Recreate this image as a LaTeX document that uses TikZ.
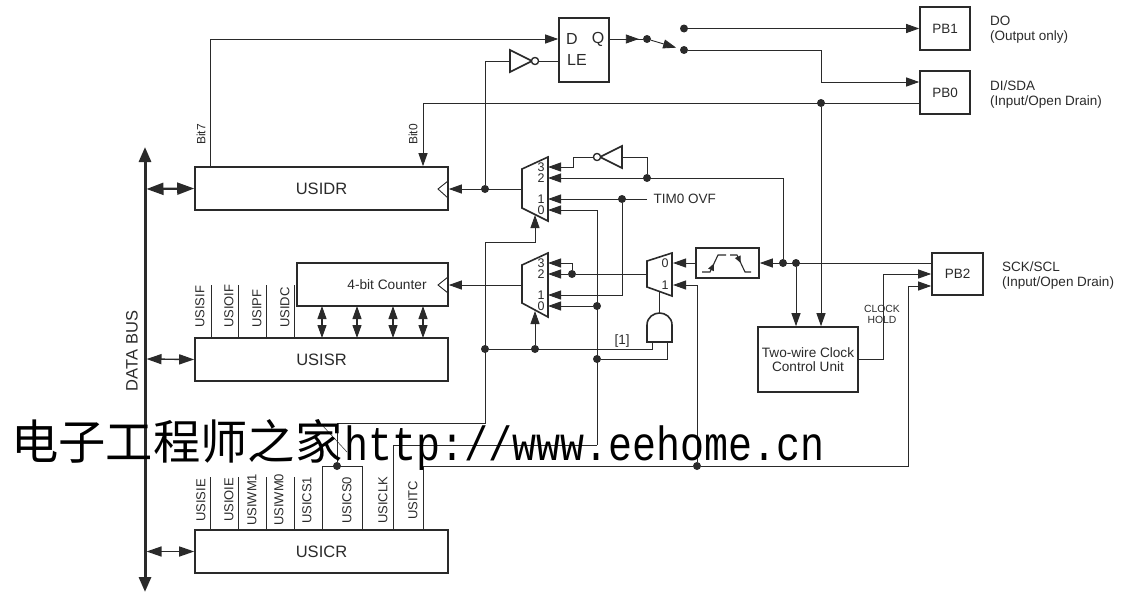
\documentclass[tikz,border=0pt]{standalone}
\usepackage{fontspec}
\setmainfont{Liberation Sans}
\newfontfamily\cjkfont{Noto Sans CJK SC}
\newfontfamily\wmfont{Liberation Mono}
\usetikzlibrary{arrows.meta,calc,decorations.markings}
\newcommand{\fsz}[1]{\fontsize{#1}{#1}\selectfont}
\definecolor{ink}{HTML}{2A2A2A}
\tikzset{
  wire/.style={draw=ink,line width=0.9pt},
  arr/.style={wire,-{Triangle[length=13pt,width=9pt]}},
  darr/.style={wire,line width=1.4pt,{Triangle[length=15pt,width=10pt]}-{Triangle[length=15pt,width=10pt]}},
  darrbig/.style={wire,line width=2.2pt,{Triangle[length=17pt,width=12pt]}-{Triangle[length=17pt,width=12pt]}},
  regbox/.style={draw=ink,line width=1.6pt,fill=white,inner sep=0pt,text=ink,align=center},
  gate/.style={draw=ink,line width=1.6pt,fill=white,line join=miter},
  dot/.style={circle,fill=ink,inner sep=0pt,minimum size=8pt},
  bubble/.style={circle,draw=ink,line width=1.2pt,fill=white,inner sep=0pt,minimum size=7pt},
  lab/.style={text=ink,inner sep=0pt,font=\fsz{13.5}},
  muxn/.style={text=ink,inner sep=0pt,font=\fsz{12.5}},
  vlab/.style={text=ink,inner sep=0pt,font=\fsz{13},rotate=90,anchor=west},
  edgemark/.style={draw=ink,line width=1.1pt,postaction={decorate},decoration={markings,mark=at position 0.5 with {\arrow{Triangle[length=7pt,width=6pt]}}}},
}
\begin{document}
\begin{tikzpicture}[x=1pt,y=-1pt]
\useasboundingbox (0,0) rectangle (1129,592);
% registers and boxes
\node[regbox,minimum width=253pt,minimum height=43pt,font=\fsz{16.5}] (usidr) at (321.5,188.5) {USIDR};
\node[regbox,minimum width=253pt,minimum height=43pt,font=\fsz{16.5}] (usisr) at (321.5,359.5) {USISR};
\node[regbox,minimum width=253pt,minimum height=43pt,font=\fsz{16.5}] (usicr) at (321.5,551.5) {USICR};
\node[regbox,minimum width=151pt,minimum height=43pt,font=\fsz{13.7}] (counter) at (372.5,284.5) {\hspace*{29pt}4-bit Counter};
\node[regbox,minimum width=50pt,minimum height=64pt] (latch) at (584,50) {};
\node[regbox,minimum width=63pt,minimum height=30pt] (filter) at (727.5,263) {};
\node[regbox,minimum width=50pt,minimum height=43pt,font=\fsz{13.5}] (pb1) at (945,28.5) {PB1};
\node[regbox,minimum width=50pt,minimum height=43pt,font=\fsz{13.5}] (pb0) at (945,92.5) {PB0};
\node[regbox,minimum width=51pt,minimum height=42pt,font=\fsz{13.5}] (pb2) at (957.5,274) {PB2};
\node[regbox,minimum width=100pt,minimum height=65pt,font=\fsz{13.6}] (twowire) at (808,359.5) {Two-wire Clock\\[1pt]Control Unit};
% latch labels
\node[inner sep=0pt,text=ink,font=\fsz{16}] (ld) at (572,39) {D};
\node[inner sep=0pt,text=ink,font=\fsz{16}] (lq) at (598,39) {Q};
\node[inner sep=0pt,text=ink,font=\fsz{16}] (lle) at (577,60) {LE};
% junctions
\node[dot] (dSw) at (647,39) {};
\node[dot] (dTop) at (684,28.5) {};
\node[dot] (dOut) at (684,50) {};
\node[dot] (dBus) at (821,103) {};
\node[dot] (dClk) at (485,189) {};
\node[dot] (dInv) at (647,178) {};
\node[dot] (dTim) at (622,199) {};
\node[dot] (dMtwo) at (572,274) {};
\node[dot] (dSa) at (597,306) {};
\node[dot] (dSb) at (597,359) {};
\node[dot] (dEa) at (485,349) {};
\node[dot] (dEb) at (535,349) {};
\node[dot] (dFa) at (783,263) {};
\node[dot] (dFb) at (796,263) {};
\node[dot] (dCs) at (337,466) {};
\node[dot] (dTc) at (697,466) {};
% mux ports
\coordinate (mAo) at (522,189);
\coordinate (mAthree) at (548,167);
\coordinate (mAtwo) at (548,178);
\coordinate (mAone) at (548,199);
\coordinate (mAzero) at (548,210);
\coordinate (mAsel) at (535,215);
\coordinate (mBo) at (522,285);
\coordinate (mBthree) at (548,263);
\coordinate (mBtwo) at (548,274);
\coordinate (mBone) at (548,295);
\coordinate (mBzero) at (548,306);
\coordinate (mBsel) at (535,311);
\coordinate (mCin) at (647,274);
\coordinate (mCzero) at (673,263);
\coordinate (mCone) at (673,285);
\coordinate (mCsel) at (659.5,292);
\coordinate (andTop) at (659.5,313);
\coordinate (andA) at (652,342);
\coordinate (andB) at (667,342);
% connectors
\draw[arr] (210,167) coordinate (bSeven) |- (latch.west |- dSw);
\draw[wire] (latch.east |- dSw) -- (dSw);
\draw[arr,shorten >=4pt] (latch.east |- dSw) -- (dSw);
\draw[arr,shorten >=4pt] (dSw) -- (dOut);
\draw[arr] (dTop) -- (dTop -| pb1.west);
\draw[wire] (dOut) -| (821,82) coordinate (bPb);
\draw[arr] (bPb) -- (bPb -| pb0.west);
\draw[arr] (dBus -| pb0.west) -- (423,103) coordinate (bZero) -- (bZero |- usidr.north);
\draw[arr] (dBus) -- (dBus |- twowire.north);
\draw[arr] (dFb) -- (dFb |- twowire.north);
\draw[arr] (dFb -| pb2.west) -- (filter.east);
\draw[arr] (filter.west) -- (mCzero);
\draw[arr] (dFa) |- (mAtwo);
\draw[arr] (mAo) -- (usidr.east |- mAo);
\draw[arr] (mBo) -- (counter.east |- mBo);
% inverter loops
\node[bubble] (binv) at (535,61) {};
\node[bubble] (binvb) at (597,157) {};
\draw[wire] (dClk) |- (510,61) coordinate (iaIn);
\draw[wire] (binv) -- (latch.west |- binv);
\draw[wire] (dInv) |- (622,157) coordinate (ibIn);
\draw[arr] (binvb) -- (573,157) coordinate (ibB) -- (ibB |- mAthree) -- (mAthree);
\draw[gate] (iaIn |- 0,50) -- (532,61) -- (iaIn |- 0,72) -- cycle;
\draw[gate] (ibIn |- 0,146) -- (600,157) -- (ibIn |- 0,168) -- cycle;
\node[bubble] at (binv) {};
\node[bubble] at (binvb) {};
% TIM0 and mux inputs
\coordinate (timEnd) at (647,199);
\draw[arr] (timEnd) -- (mAone);
\node[lab,anchor=west] (tim) at (653.5,198.5) {TIM0 OVF};
\draw[arr] (dTim) |- (mBone);
\draw[arr] (597,445) coordinate (sBot) |- (mAzero);
\draw[arr] (dSa) -- (mBzero);
\draw[arr] (dMtwo) -- (572,263) -- (mBthree);
\draw[arr] (dMtwo) -- (mBtwo);
\draw[wire] (dMtwo) -- (mCin);
\draw[arr] (dTc) -- (697,285) -- (mCone);
\draw[wire] (mCsel) -- (andTop);
\draw[wire] (dEa) -- (652,349) -- (andA);
\draw[wire] (dSb) -- (667,359) -- (andB);
\draw[arr] (dEb) -- (mBsel);
\coordinate (aBot) at (337,423);
\draw[arr] (dCs) -- (aBot) -| (485,242) -| (mAsel);
% register bit lines
\draw[wire] (210,477) -- (210,530);
\draw[wire] (238,477) -- (238,530);
\draw[wire] (266,477) -- (266,530);
\draw[wire] (294,477) -- (294,530);
\draw[wire] (322,530) -- (322,466) -- (362,466) -- (362,530);
\draw[wire] (393,530) -- (393,445) -- (sBot);
\draw[wire] (423,530) -- (423,466) -- (dTc);
\draw[arr] (dTc) -- (908,466) -- (908,286) -- (pb2.west |- 0,286);
\draw[arr] (twowire.east |- 0,359) -- (883,359) -- (883,274) -- (pb2.west |- 0,274);
\draw[wire] (211,285) -- (211,338);
\draw[wire] (238,285) -- (238,338);
\draw[wire] (266,285) -- (266,338);
\draw[wire] (294,285) -- (294,338);
\draw[wire,line width=0.5pt] (322,425) -- (347,452);
% counter to USISR arrows
\foreach \bx in {322,357,393,423}
  \draw[wire,line width=1.1pt,{Triangle[length=13pt,width=9pt]}-{Triangle[length=13pt,width=9pt]}] (\bx,306) -- (\bx,338);
% mux shapes
\draw[gate,fill=none] (522,169) -- (548,157) -- (548,221) -- (522,208) -- cycle;
\draw[gate,fill=none] (522,265) -- (548,253) -- (548,317) -- (522,303) -- cycle;
\draw[gate,fill=none] (647,261) -- (672,253) -- (672,296) -- (647,287) -- cycle;
\draw[gate] (647,342) -- (647,325) .. controls (647,317) and (654,313) .. (659.5,313) .. controls (665,313) and (672,317) .. (672,325) -- (672,342) -- cycle;
\foreach \t/\n/\y in {3/a/167,2/b/178,1/c/199,0/d/210,3/e/263,2/f/274,1/g/295,0/h/306}
  \node[muxn] (mn\n) at (541,\y) {\t};
\node[muxn] (mni) at (665,263) {0};
\node[muxn] (mnj) at (665,285) {1};
% clock triangles
\draw[wire,line join=miter] (448,181) -- (438,189) -- (448,198);
\draw[wire,line join=miter] (448,277) -- (438,285) -- (448,293);
% filter symbols
\draw[edgemark] (702,272) -- (710,272) -- (718,255) -- (726,255);
\draw[edgemark] (730,255) -- (737,255) -- (745,272) -- (751,272);
% data bus
\coordinate (busTop) at (145,147);
\coordinate (busBot) at (145,592);
\draw[draw=ink,line width=3pt,{Triangle[length=15pt,width=12pt]}-{Triangle[length=15pt,width=12pt]}] (busTop) -- (busBot);
\draw[darrbig] (146.5,189) -- (usidr.west);
\draw[darr] (146.5,359) -- (usisr.west);
\draw[darr] (146.5,551.5) -- (usicr.west);
% text labels
\node[text=ink,inner sep=0pt,font=\fsz{16.5},rotate=90] (bus) at (132,351) {DATA BUS};
\node[vlab,font=\fsz{12}] (b7) at (201,145) {Bit7};
\node[vlab,font=\fsz{12}] (b0) at (413,145) {Bit0};
\node[vlab] (v1) at (200,328) {USISIF};
\node[vlab] (v2) at (229,328) {USIOIF};
\node[vlab] (v3) at (257,328) {USIPF};
\node[vlab] (v4) at (285,328) {USIDC};
\node[vlab] (c1) at (201,522) {USISIE};
\node[vlab] (c2) at (229,522) {USIOIE};
\node[vlab] (c3) at (252,526) {USIWM1};
\node[vlab] (c4) at (279,526) {USIWM0};
\node[vlab] (c5) at (307,524) {USICS1};
\node[vlab] (c6) at (347,524) {USICS0};
\node[vlab] (c7) at (383,524) {USICLK};
\node[vlab] (c8) at (413,520) {USITC};
\node[lab] (one) at (622,341) {[1]};
\node[text=ink,inner sep=0pt,font=\fsz{10.4},align=center] (ch) at (882,314) {CLOCK\\[0.5pt]HOLD};
\node[lab,anchor=base west,align=left] (do) at (990,25.5) {DO};
\node[lab,anchor=base west] (dob) at (990,40.5) {(Output only)};
\node[lab,anchor=base west] (di) at (990,90) {DI/SDA};
\node[lab,anchor=base west] (dib) at (990,105) {(Input/Open Drain)};
\node[lab,anchor=base west] (sc) at (1002,271.5) {SCK/SCL};
\node[lab,anchor=base west] (scb) at (1002,286.5) {(Input/Open Drain)};
% watermark
\node[anchor=base west,inner sep=0pt,font=\cjkfont\fsz{47.3}] (wma) at (11,459) {电子工程师之家};
\node[anchor=base west,inner sep=0pt,font=\wmfont\fsz{48}] (wmb) at (344,460) {\scalebox{0.833}[1]{http://www.eehome.cn}};
\end{tikzpicture}
\end{document}
